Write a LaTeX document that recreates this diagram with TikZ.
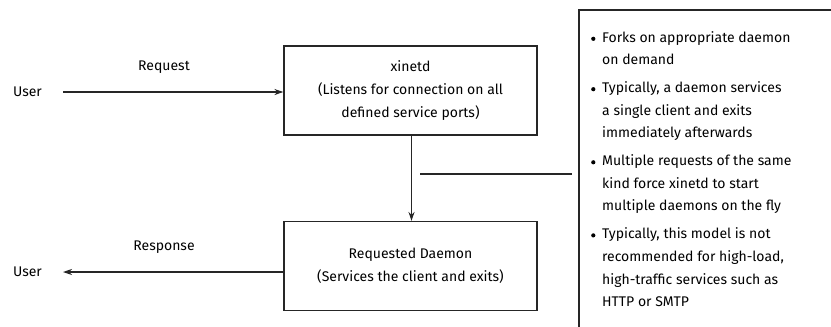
\documentclass[tikz,border=0pt]{standalone}
\usepackage{fontspec}
\setmainfont{Fira Sans}
\usetikzlibrary{arrows.meta}
\newcommand{\mybul}{\makebox[6pt][l]{\raisebox{1.2pt}{\tikz\fill[black] (0,0) circle (2.1pt);}}}
\begin{document}
\begin{tikzpicture}[x=1pt,y=-1pt,
  every node/.style={font=\fontsize{14pt}{22.7pt}\selectfont, text=black},
  procbox/.style={draw=black!85, line width=1.1pt, minimum width=253pt, minimum height=89pt, align=center, inner sep=0pt},
  lbl/.style={inner sep=0pt},
  conn/.style={draw=black!85, line width=1.1pt},
  arr/.style={conn, -{Stealth[length=9pt,width=6pt]}}]
\useasboundingbox (0,0) rectangle (831,327);
\node[procbox] (xinetd) at (410.5,90.5) {xinetd\\(Listens for connection on all\\defined service ports)};
\node[procbox] (daemon) at (410.5,266) {Requested Daemon\\(Services the client and exits)};
\node[lbl] (user1) at (27.5,92) {User};
\node[lbl] (user2) at (27.5,272) {User};
\coordinate (u1end) at (63,92);
\coordinate (u2end) at (63,272);
\draw[arr] (u1end) -- (u1end -| xinetd.west);
\draw[arr] (daemon.west |- u2end) -- (u2end);
\node[lbl] (req) at (164,67) {Request};
\node[lbl] (resp) at (164,247) {Response};
\draw[arr] (xinetd.south -| 411.5,0) -- (daemon.north -| 411.5,0);
\coordinate (n1) at (420,174);
\coordinate (n2) at (572,174);
\draw[conn] (n1) -- (n2);
\coordinate (nbtr) at (833,10);
\coordinate (nbtl) at (579,10);
\coordinate (nbbl) at (579,330);
\draw[conn] (nbtr) -- (nbtl) -- (nbbl);
\node[lbl, anchor=north west] (notes) at (591,26) {\begin{tabular}[t]{@{}l@{\hspace{5pt}}l@{}}
\mybul & Forks on appropriate daemon\\
 & on demand\\[5pt]
\mybul & Typically, a daemon services\\
 & a single client and exits\\
 & immediately afterwards\\[5pt]
\mybul & Multiple requests of the same\\
 & kind force xinetd to start\\
 & multiple daemons on the fly\\[5pt]
\mybul & Typically, this model is not\\
 & recommended for high-load,\\
 & high-traffic services such as\\
 & HTTP or SMTP
\end{tabular}};
\end{tikzpicture}
\end{document}
